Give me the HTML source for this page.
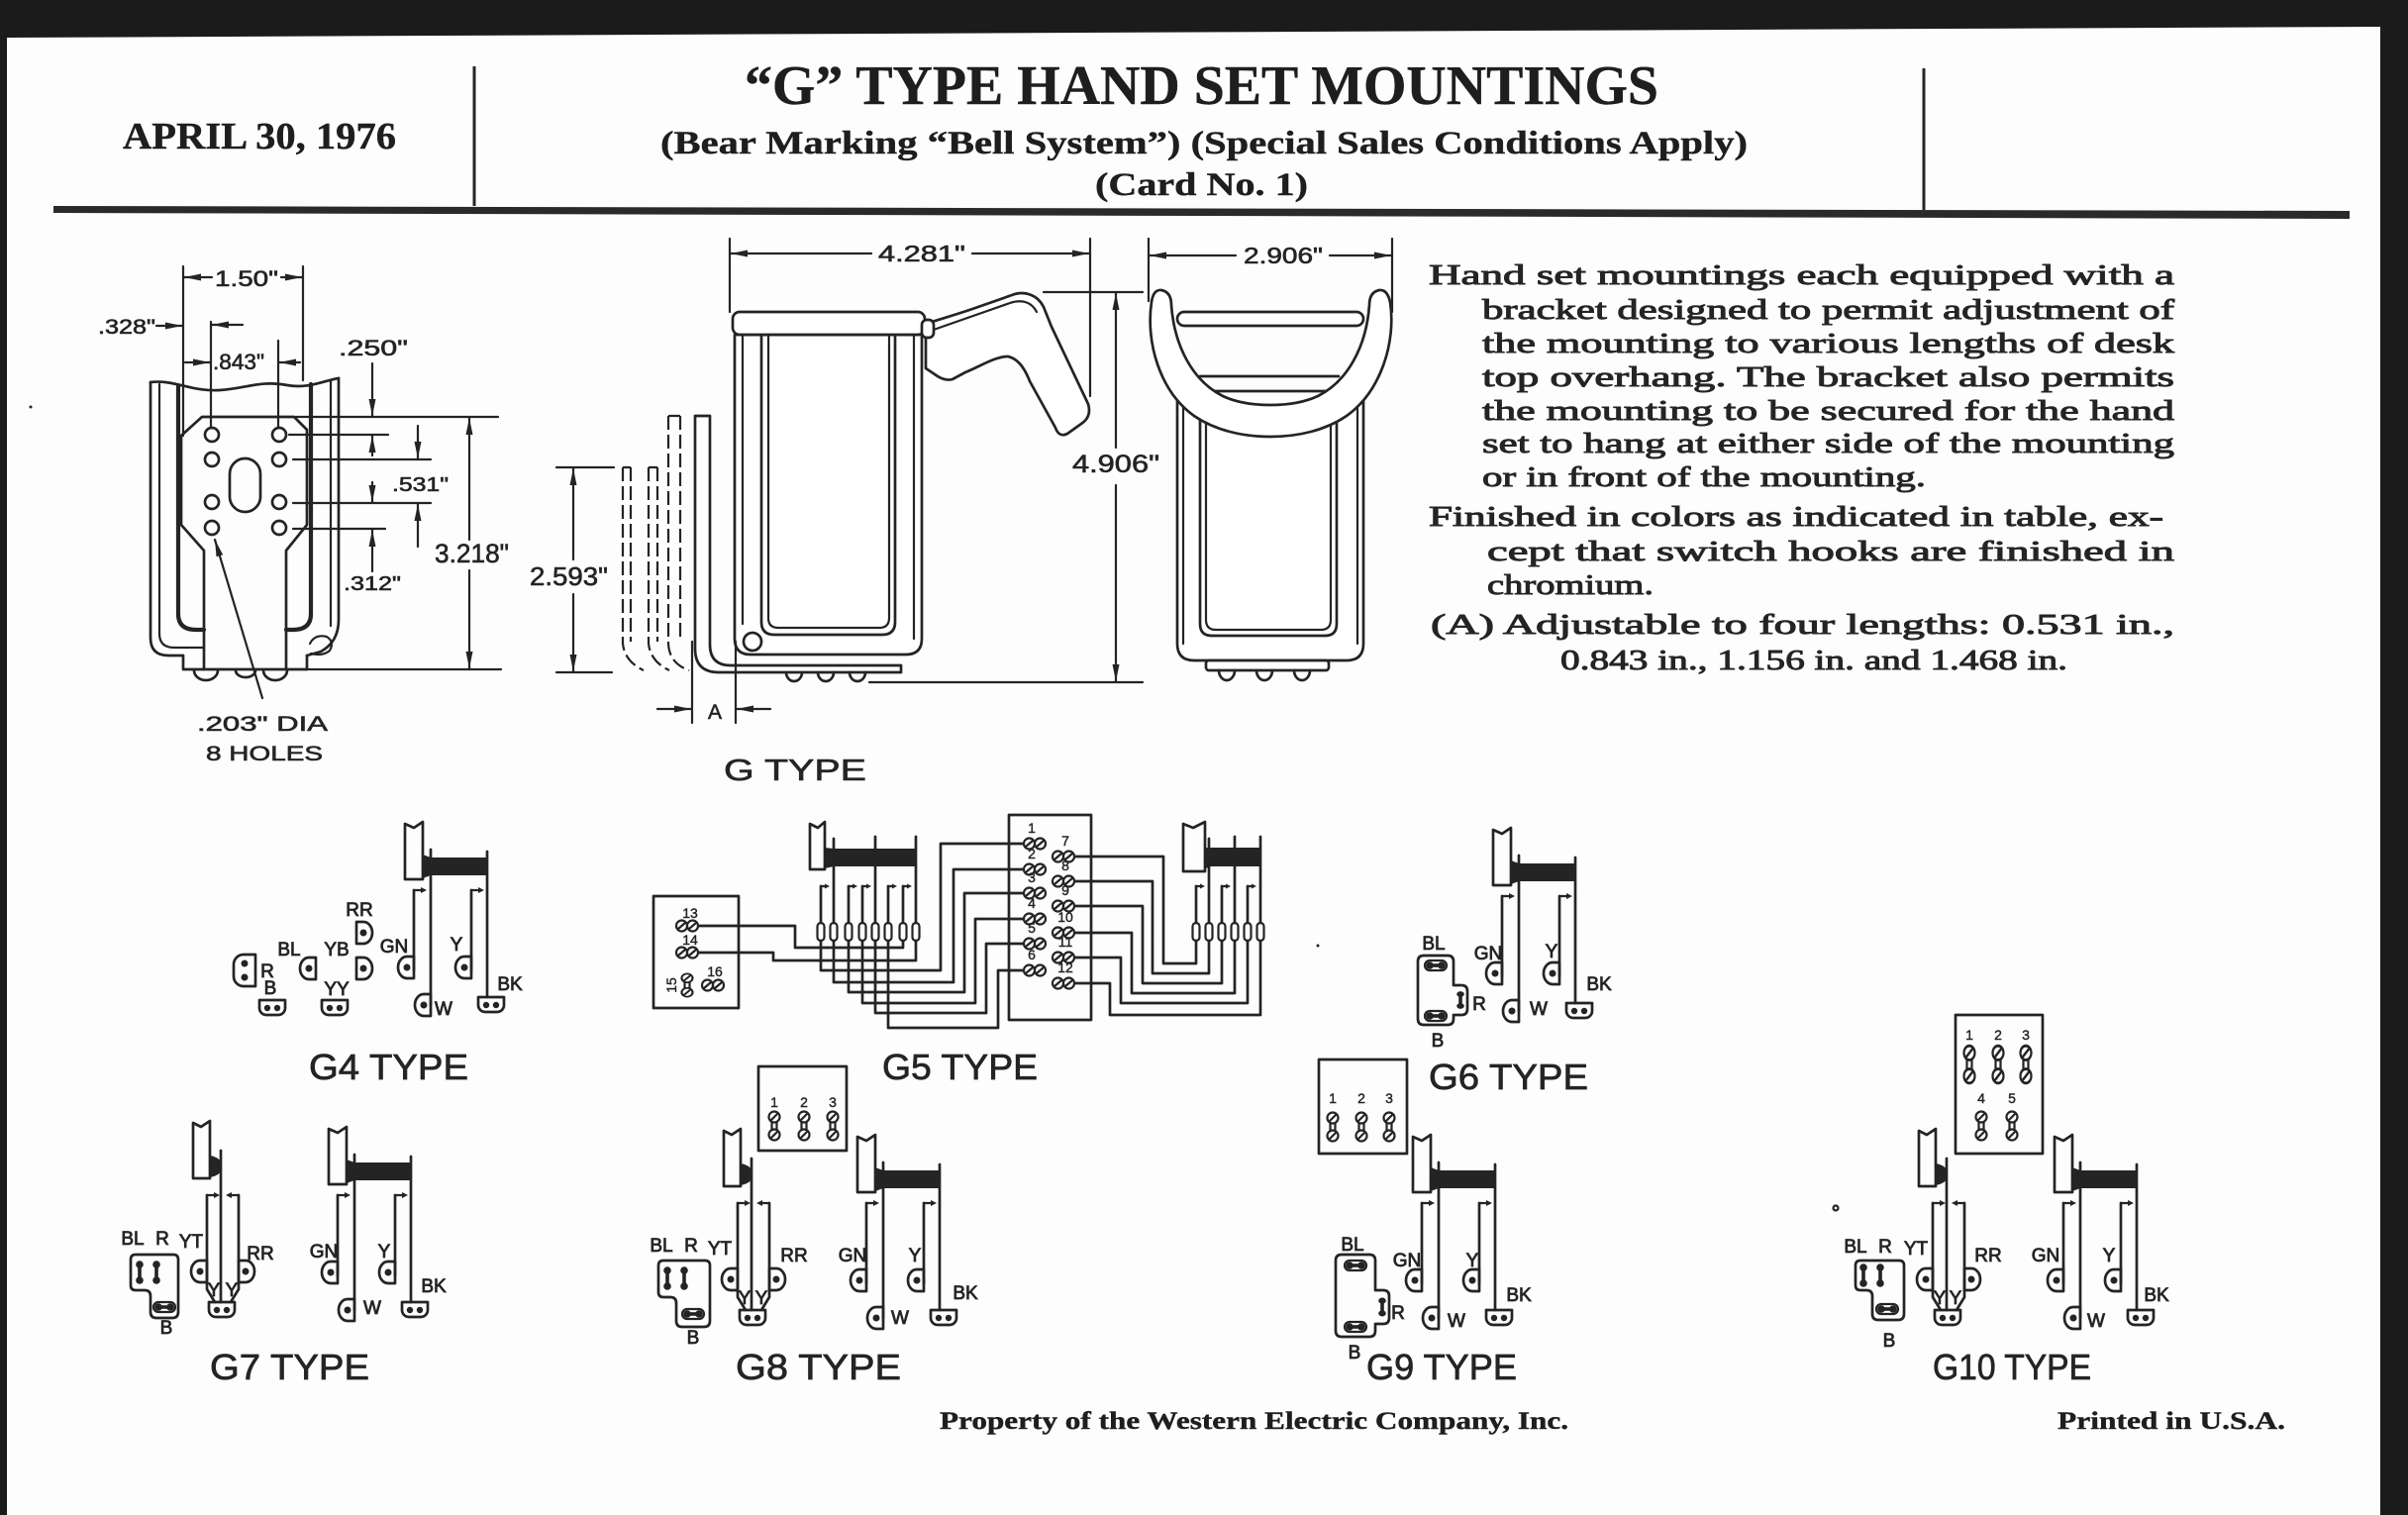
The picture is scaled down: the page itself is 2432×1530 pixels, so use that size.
<!DOCTYPE html>
<html><head><meta charset="utf-8"><title>G Type Hand Set Mountings</title>
<style>
html,body{margin:0;padding:0;background:#1b1b1b;overflow:hidden}
svg{display:block}
.s{fill:none;stroke:#242424;stroke-width:2.7;stroke-linecap:round;stroke-linejoin:round}
.h{fill:none;stroke:#242424;stroke-width:4.2;stroke-linecap:round;stroke-linejoin:round}
.t{fill:none;stroke:#242424;stroke-width:2.2;stroke-linecap:round;stroke-linejoin:round}
.d{fill:none;stroke:#242424;stroke-width:2.2;stroke-dasharray:14 5}
.w{fill:#fff;stroke:#242424;stroke-width:2.7;stroke-linejoin:round}
.f{fill:#242424}
.hd{font-family:"Liberation Serif",serif;font-weight:bold;fill:#1e1e1e;stroke:#1e1e1e;stroke-width:.4}
.bd{font-family:"Liberation Serif",serif;font-size:29px;fill:#242424;stroke:#242424;stroke-width:.9}
.sn{font-family:"Liberation Sans",sans-serif;fill:#242424;stroke:#242424;stroke-width:.6}
.lb{font-family:"Liberation Sans",sans-serif;font-size:19px;fill:#242424;stroke:#242424;stroke-width:.8;text-anchor:middle}
.tp{font-family:"Liberation Sans",sans-serif;font-size:36px;fill:#242424;stroke:#242424;stroke-width:.7}
.nm{font-family:"Liberation Sans",sans-serif;font-size:14px;fill:#242424;stroke:#242424;stroke-width:.4;text-anchor:middle}
</style></head><body>
<svg width="2432" height="1530" viewBox="0 0 2432 1530">
<defs>
<marker id="a" viewBox="0 0 10 10" refX="10" refY="5" markerWidth="17" markerHeight="7" markerUnits="userSpaceOnUse" orient="auto" preserveAspectRatio="none"><path d="M0,0 L10,5 L0,10 Z" fill="#242424"/></marker>
<g id="hk"><path d="M0,0 H9" class="t"/><path d="M7,-3 L13,0 L7,3 Z" class="f"/></g>
<g id="hks"><path d="M0,0 H5" class="t"/><path d="M4,-2.5 L9,0 L4,2.5 Z" class="f"/></g>
<g id="lL"><path d="M6,-11 H-1 A9,11 0 0 0 -1,11 H6 Z" class="s"/><circle cx="-1" r="3.5" class="f"/></g>
<g id="lR"><path d="M-6,-11 H1 A9,11 0 0 1 1,11 H-6 Z" class="s"/><circle cx="1" r="3.5" class="f"/></g>
<g id="lH"><path d="M-13,-7 H13 V1 A7,7 0 0 1 6,8 H-6 A7,7 0 0 1 -13,1 Z" class="s"/><circle cx="-5" cy="1" r="3.2" class="f"/><circle cx="5" cy="1" r="3.2" class="f"/></g>
<g id="dh"><circle cx="-5.5" r="5.5" class="t"/><circle cx="5.5" r="5.5" class="t"/><path d="M-9,3 L-2,-3 M2,3 L9,-3" class="t"/></g>
<g id="dv"><circle cy="-9" r="5.5" class="t"/><circle cy="9" r="5.5" class="t"/><path d="M-2.5,-4 V4 M2.5,-4 V4 M-3,-6 L3,-12 M-3,12 L3,6" class="t"/></g>
<g id="dd"><circle cx="-6" r="3.8" class="f"/><circle cx="6" r="3.8" class="f"/><rect x="-6" y="-1.8" width="12" height="3.6" class="f"/><rect x="-11" y="-5" width="22" height="10" rx="5" class="t"/></g>
<g id="ddv"><circle cy="-8" r="3.8" class="f"/><circle cy="8" r="3.8" class="f"/><rect x="-1.8" y="-8" width="3.6" height="16" class="f"/></g>
<g id="hs2">
<path d="M0,2 L9,6 L18,0 V58 H0 Z" class="s"/>
<path d="M18,33 L26,36 V54 L18,57 Z" class="f"/>
<rect x="26" y="36" width="57" height="18" class="f"/>
<path d="M26,28 V185 M83,30 V177 M9,69 V150 M67,69 V150" class="s"/>
<use href="#hk" x="9" y="69"/><use href="#hk" x="67" y="69"/>
<use href="#lL" x="3" y="147"/><use href="#lL" x="61" y="147"/><use href="#lL" x="20" y="185"/><use href="#lH" x="87" y="184"/>
</g>
<g id="hs1">
<path d="M0,2 L8,6 L17,0 V58 H0 Z" class="s"/>
<path d="M17,35 Q29,37 29,46 Q29,55 17,57 Z" class="f"/>
<path d="M28,30 V183 M14,75 V170 L22,183 M46,75 V170 L38,183" class="s"/>
<use href="#hk" x="14" y="75"/><use href="#hk" transform="translate(46,75) scale(-1,1)"/>
<use href="#lL" x="8" y="152"/><use href="#lR" x="52" y="152"/><use href="#lH" x="29" y="190"/>
</g>
</defs>

<rect width="2432" height="1530" fill="#1b1b1b"/>
<path d="M7,38 L2404,27 L2404,1530 L7,1530 Z" fill="#fdfdfd"/>

<!-- HEADER -->
<text class="hd" x="124" y="150" font-size="38" textLength="276" lengthAdjust="spacingAndGlyphs">APRIL 30, 1976</text>
<rect x="477.5" y="67" width="3" height="141" fill="#262626"/>
<rect x="1941.5" y="69" width="3" height="143" fill="#262626"/>
<text class="hd" x="752" y="105" font-size="56" textLength="923" lengthAdjust="spacingAndGlyphs">“G” TYPE HAND SET MOUNTINGS</text>
<text class="hd" x="667" y="155" font-size="33" textLength="1098" lengthAdjust="spacingAndGlyphs">(Bear Marking “Bell System”) (Special Sales Conditions Apply)</text>
<text class="hd" x="1106" y="197" font-size="33" textLength="215" lengthAdjust="spacingAndGlyphs">(Card No. 1)</text>
<path d="M54,208 L2373,213 L2373,221 L54,215 Z" fill="#2a2a2a"/>

<!-- BODY TEXT -->
<text class="bd" x="1443" y="287" textLength="753" lengthAdjust="spacingAndGlyphs">Hand set mountings each equipped with a</text>
<text class="bd" x="1497" y="322" textLength="699" lengthAdjust="spacingAndGlyphs">bracket designed to permit adjustment of</text>
<text class="bd" x="1497" y="356" textLength="699" lengthAdjust="spacingAndGlyphs">the mounting to various lengths of desk</text>
<text class="bd" x="1497" y="390" textLength="699" lengthAdjust="spacingAndGlyphs">top overhang.  The bracket also permits</text>
<text class="bd" x="1497" y="424" textLength="699" lengthAdjust="spacingAndGlyphs">the mounting to be secured for the hand</text>
<text class="bd" x="1497" y="457" textLength="699" lengthAdjust="spacingAndGlyphs">set to hang at either side of the mounting</text>
<text class="bd" x="1497" y="491" textLength="448" lengthAdjust="spacingAndGlyphs">or in front of the mounting.</text>
<text class="bd" x="1443" y="531" textLength="742" lengthAdjust="spacingAndGlyphs">Finished in colors as indicated in table, ex-</text>
<text class="bd" x="1502" y="566" textLength="694" lengthAdjust="spacingAndGlyphs">cept that switch hooks are finished in</text>
<text class="bd" x="1502" y="600" textLength="168" lengthAdjust="spacingAndGlyphs">chromium.</text>
<text class="bd" x="1445" y="640" textLength="751" lengthAdjust="spacingAndGlyphs">(A) Adjustable to four lengths:  0.531 in.,</text>
<text class="bd" x="1576" y="676" textLength="512" lengthAdjust="spacingAndGlyphs">0.843 in., 1.156 in. and 1.468 in.</text>

<!-- TOP-LEFT BRACKET VIEW -->
<path class="s" d="M152,386 V644 Q152,662 170,662 H185 V676 H310 V662"/>
<path class="s" d="M342,382 V626 Q342,648 324,658 L310,662"/>
<path class="t" d="M313,650 Q318,640 330,643 Q338,648 333,657 Q326,663 314,660"/>
<path class="t" d="M161,388 V640 Q161,654 176,654 H206"/>
<path class="h" d="M180,390 V620 Q180,636 198,636 H206"/>
<path class="h" d="M314,388 V620 Q314,636 296,636 H289"/>
<path class="t" d="M334,384 V632"/>
<path class="s" d="M152,386 C175,383 195,396 222,394 C250,392 262,384 290,389 C312,393 328,384 342,382"/>
<path class="s" d="M183,440 L204,421 H297 L310,434 V530 L289,556 V676 M206,676 V556 L183,530 V440"/>
<g class="s">
<circle cx="214" cy="439" r="7"/><circle cx="282" cy="439" r="7"/>
<circle cx="214" cy="464" r="7"/><circle cx="282" cy="464" r="7"/>
<circle cx="214" cy="507" r="7"/><circle cx="282" cy="507" r="7"/>
<circle cx="214" cy="533" r="7"/><circle cx="282" cy="533" r="7"/>
</g>
<rect class="s" x="232" y="463" width="31" height="54" rx="15.5"/>
<path class="s" d="M196,677 A12,10 0 0 0 220,677 M238,677 A10,7 0 0 0 258,677 M266,677 A12,10 0 0 0 290,677"/>
<!-- dims -->
<path class="t" d="M185,269 V440 M306,269 V384 M213,325 V432 M281,344 V432"/>
<line class="t" x1="214" y1="280" x2="186" y2="280" marker-end="url(#a)"/>
<line class="t" x1="284" y1="280" x2="305" y2="280" marker-end="url(#a)"/>
<text class="sn" x="217" y="289" font-size="22" textLength="64" lengthAdjust="spacingAndGlyphs">1.50"</text>
<text class="sn" x="99" y="337" font-size="21" textLength="58" lengthAdjust="spacingAndGlyphs">.328"</text>
<line class="t" x1="158" y1="329" x2="184" y2="329" marker-end="url(#a)"/>
<line class="t" x1="245" y1="328" x2="214" y2="328" marker-end="url(#a)"/>
<line class="t" x1="187" y1="366" x2="212" y2="366" marker-end="url(#a)"/>
<text class="sn" x="215" y="373" font-size="22" textLength="52" lengthAdjust="spacingAndGlyphs">.843"</text>
<line class="t" x1="303" y1="366" x2="282" y2="366" marker-end="url(#a)"/>
<text class="sn" x="342" y="359" font-size="22" textLength="70" lengthAdjust="spacingAndGlyphs">.250"</text>
<path class="t" d="M299,421 H503 M292,439 H392 M296,464 H435 M296,508 H435 M296,534 H389 M310,676 H506"/>
<line class="t" x1="376" y1="367" x2="376" y2="420" marker-end="url(#a)"/>
<line class="t" x1="376" y1="460" x2="376" y2="440" marker-end="url(#a)"/>
<line class="t" x1="422" y1="430" x2="422" y2="463" marker-end="url(#a)"/>
<line class="t" x1="422" y1="552" x2="422" y2="509" marker-end="url(#a)"/>
<line class="t" x1="376" y1="487" x2="376" y2="507" marker-end="url(#a)"/>
<line class="t" x1="376" y1="577" x2="376" y2="535" marker-end="url(#a)"/>
<text class="sn" x="396" y="496" font-size="20" textLength="57" lengthAdjust="spacingAndGlyphs">.531"</text>
<text class="sn" x="347" y="596" font-size="20" textLength="58" lengthAdjust="spacingAndGlyphs">.312"</text>
<line class="t" x1="474" y1="545" x2="474" y2="422" marker-end="url(#a)"/>
<line class="t" x1="474" y1="576" x2="474" y2="675" marker-end="url(#a)"/>
<text class="sn" x="439" y="568" font-size="27" textLength="75" lengthAdjust="spacingAndGlyphs">3.218"</text>
<line class="t" x1="265" y1="705" x2="217" y2="545" marker-end="url(#a)"/>
<text class="sn" x="199" y="738" font-size="21" textLength="132" lengthAdjust="spacingAndGlyphs">.203" DIA</text>
<text class="sn" x="208" y="768" font-size="21" textLength="118" lengthAdjust="spacingAndGlyphs">8 HOLES</text>
<circle cx="31" cy="411" r="1.5" class="f"/>

<!-- MIDDLE: SIDE VIEW -->
<path class="d" d="M675,420 V650 Q676,670 696,677 M687,420 V648 M675,420 H687"/>
<path class="d" d="M655,472 V650 Q657,668 676,677 M664,472 V648 M655,472 H664"/>
<path class="d" d="M629,472 V650 Q631,668 650,677 M637,472 V648 M629,472 H637"/>
<path class="w" d="M702,420 V655 Q702,679 726,679 H910 V672 H738 Q717,672 717,651 V420 Z"/>
<path class="s" d="M794,679 A8,9 0 0 0 810,679 M826,679 A8,9 0 0 0 842,679 M858,679 A8,9 0 0 0 874,679"/>
<path class="w" d="M742,338 V645 Q742,661 758,661 H915 Q931,661 931,645 V338 Z"/>
<path class="t" d="M750,340 V630 M923,340 V645"/>
<path class="s" d="M769,340 V628 Q769,641 782,641 H891 Q904,641 904,628 V340"/>
<path class="t" d="M776,340 V624 Q776,634 786,634 H888 Q898,634 898,624 V340"/>
<circle class="s" cx="760" cy="648" r="9"/>
<rect class="w" x="740" y="315" width="194" height="23" rx="7"/>
<path class="w" d="M935,327 C950,322 965,318 985,311 L1022,298 C1035,293 1048,298 1054,310 L1062,330 L1099,408 C1102,418 1098,424 1092,428 L1078,438 C1072,441 1068,438 1066,432 L1040,385 C1035,372 1028,362 1018,360 C1005,360 990,370 975,376 L962,383 C955,385 948,381 944,378 L935,372 Z"/>
<path class="t" d="M940,334 L1020,306 C1032,302 1042,305 1047,315"/>
<rect class="w" x="931" y="323" width="12" height="18" rx="5"/>
<!-- dims middle -->
<path class="t" d="M737,241 V315 M1101,241 V400"/>
<line class="t" x1="880" y1="256" x2="738" y2="256" marker-end="url(#a)"/>
<line class="t" x1="982" y1="256" x2="1100" y2="256" marker-end="url(#a)"/>
<text class="sn" x="887" y="264" font-size="23" textLength="88" lengthAdjust="spacingAndGlyphs">4.281"</text>
<path class="t" d="M1160,241 V304 M1406,241 V315"/>
<line class="t" x1="1248" y1="258" x2="1161" y2="258" marker-end="url(#a)"/>
<line class="t" x1="1343" y1="258" x2="1405" y2="258" marker-end="url(#a)"/>
<text class="sn" x="1256" y="266" font-size="23" textLength="80" lengthAdjust="spacingAndGlyphs">2.906"</text>
<path class="t" d="M1054,295 H1154 M878,689 H1154"/>
<line class="t" x1="1127" y1="452" x2="1127" y2="296" marker-end="url(#a)"/>
<line class="t" x1="1127" y1="490" x2="1127" y2="688" marker-end="url(#a)"/>
<text class="sn" x="1083" y="477" font-size="25" textLength="88" lengthAdjust="spacingAndGlyphs">4.906"</text>
<path class="t" d="M562,472 H620 M562,679 H618"/>
<line class="t" x1="579" y1="565" x2="579" y2="473" marker-end="url(#a)"/>
<line class="t" x1="579" y1="600" x2="579" y2="678" marker-end="url(#a)"/>
<text class="sn" x="535" y="591" font-size="26" textLength="79" lengthAdjust="spacingAndGlyphs">2.593"</text>
<path class="t" d="M699,648 V730 M743,648 V730"/>
<line class="t" x1="664" y1="716" x2="698" y2="716" marker-end="url(#a)"/>
<line class="t" x1="778" y1="716" x2="744" y2="716" marker-end="url(#a)"/>
<text class="sn" x="715" y="726" font-size="21">A</text>
<text class="sn" x="731" y="788" font-size="31" textLength="144" lengthAdjust="spacingAndGlyphs">G TYPE</text>

<!-- FRONT VIEW -->
<path class="w" d="M1189,395 V650 Q1189,667 1206,667 H1360 Q1377,667 1377,650 V395 Z"/>
<path class="t" d="M1195,400 V650 M1371,400 V650"/>
<path class="s" d="M1212,422 V630 Q1212,642 1224,642 H1338 Q1350,642 1350,630 V422"/>
<path class="t" d="M1218,424 V626 Q1218,636 1228,636 H1334 Q1344,636 1344,626 V424"/>
<rect class="w" x="1218" y="667" width="124" height="10" rx="3"/>
<path class="s" d="M1231,677 A8,10 0 0 0 1247,677 M1269,677 A8,10 0 0 0 1285,677 M1307,677 A8,10 0 0 0 1323,677"/>
<rect class="w" x="1189" y="315" width="188" height="14" rx="7"/>
<path class="s" d="M1212,380 H1352"/>
<path class="w" d="M1163,305 Q1165,292 1173,293 Q1183,295 1183,308 C1186,350 1205,385 1235,400 C1250,407 1268,409 1283,409 C1298,409 1316,407 1331,400 C1361,385 1380,350 1383,308 Q1383,295 1393,293 Q1401,292 1404,305 C1410,345 1395,395 1360,420 C1338,435 1310,441 1283,441 C1256,441 1228,435 1206,420 C1171,395 1157,345 1163,305 Z"/>

<!-- G4 -->
<use href="#hs2" x="409" y="830"/>
<path class="s" d="M258,964 H246 A10,10 0 0 0 236,974 V986 A10,10 0 0 0 246,996 H258 Z"/>
<circle cx="247" cy="973" r="3.5" class="f"/><circle cx="247" cy="987" r="3.5" class="f"/>
<use href="#lL" x="313" y="978"/>
<use href="#lR" x="366" y="942"/>
<use href="#lR" x="366" y="978"/>
<use href="#lH" x="275" y="1017"/>
<use href="#lH" x="338" y="1017"/>
<text class="lb" x="363" y="925">RR</text>
<text class="lb" x="292" y="965">BL</text>
<text class="lb" x="340" y="965">YB</text>
<text class="lb" x="398" y="962">GN</text>
<text class="lb" x="461" y="960">Y</text>
<text class="lb" x="270" y="987">R</text>
<text class="lb" x="273" y="1004">B</text>
<text class="lb" x="340" y="1005">YY</text>
<text class="lb" x="448" y="1025">W</text>
<text class="lb" x="515" y="1000">BK</text>
<text class="tp" x="312" y="1090" textLength="161" lengthAdjust="spacingAndGlyphs">G4 TYPE</text>

<!-- G5 -->
<rect class="s" x="660" y="905" width="86" height="113"/>
<use href="#dh" x="694" y="935"/><use href="#dh" x="694" y="962"/>
<use href="#dv" transform="translate(694,995) scale(1,0.8)"/><use href="#dh" x="720" y="995"/>
<text class="nm" x="697" y="927">13</text><text class="nm" x="697" y="954">14</text>
<text class="nm" transform="translate(683,995) rotate(-90)">15</text>
<text class="nm" x="722" y="986">16</text>
<path class="s" d="M818,832 L826,836 L833,830 V878 H818 Z"/>
<path class="f" d="M833,856 L842,857 V875 L833,877 Z"/>
<rect class="f" x="842" y="857" width="84" height="18"/>
<path class="s" d="M842,847 V932 M884,845 V932 M925,845 V932 M829,895 V932 M857,895 V932 M871,895 V932 M897,895 V932 M912,895 V932"/>
<use href="#hks" x="829" y="895"/><use href="#hks" x="857" y="895"/><use href="#hks" x="871" y="895"/><use href="#hks" x="897" y="895"/><use href="#hks" x="912" y="895"/>
<g class="t">
<rect x="825.5" y="932" width="7" height="18" rx="3.5"/><rect x="838.5" y="932" width="7" height="18" rx="3.5"/>
<rect x="853.5" y="932" width="7" height="18" rx="3.5"/><rect x="867.5" y="932" width="7" height="18" rx="3.5"/>
<rect x="880.5" y="932" width="7" height="18" rx="3.5"/><rect x="893.5" y="932" width="7" height="18" rx="3.5"/>
<rect x="908.5" y="932" width="7" height="18" rx="3.5"/><rect x="921.5" y="932" width="7" height="18" rx="3.5"/>
</g>
<g class="s">
<path d="M706,935 H803 V957 H912 V950"/>
<path d="M706,962 H781 V970 H925 V950"/>
<path d="M829,950 V980 H950 V852 H1033"/>
<path d="M842,950 V992 H963 V878 H1033"/>
<path d="M857,950 V1002 H974 V902 H1033"/>
<path d="M871,950 V1013 H985 V928 H1033"/>
<path d="M884,950 V1023 H996 V953 H1033"/>
<path d="M897,950 V1038 H1008 V980 H1033"/>
<path d="M1086,865 H1175 V973 H1208 V950"/>
<path d="M1086,890 H1164 V983 H1221 V950"/>
<path d="M1086,915 H1154 V993 H1234 V950"/>
<path d="M1086,942 H1143 V1003 H1247 V950"/>
<path d="M1086,967 H1132 V1013 H1260 V950"/>
<path d="M1086,993 H1121 V1025 H1273 V950"/>
</g>
<rect class="s" x="1019" y="823" width="83" height="207"/>
<use href="#dh" x="1045" y="852"/><use href="#dh" x="1045" y="878"/><use href="#dh" x="1045" y="902"/>
<use href="#dh" x="1045" y="928"/><use href="#dh" x="1045" y="953"/><use href="#dh" x="1045" y="980"/>
<use href="#dh" x="1074" y="865"/><use href="#dh" x="1074" y="890"/><use href="#dh" x="1074" y="915"/>
<use href="#dh" x="1074" y="942"/><use href="#dh" x="1074" y="967"/><use href="#dh" x="1074" y="993"/>
<text class="nm" x="1042" y="841">1</text><text class="nm" x="1042" y="867">2</text><text class="nm" x="1042" y="891">3</text>
<text class="nm" x="1042" y="917">4</text><text class="nm" x="1042" y="942">5</text><text class="nm" x="1042" y="969">6</text>
<text class="nm" x="1076" y="854">7</text><text class="nm" x="1076" y="879">8</text><text class="nm" x="1076" y="904">9</text>
<text class="nm" x="1076" y="931">10</text><text class="nm" x="1076" y="956">11</text><text class="nm" x="1076" y="982">12</text>
<path class="s" d="M1195,832 L1205,836 L1217,830 V880 H1195 Z"/>
<path class="f" d="M1217,856 L1221,856 V876 L1217,877 Z"/>
<rect class="f" x="1221" y="856" width="52" height="19"/>
<path class="s" d="M1221,847 V932 M1247,845 V932 M1273,845 V932 M1208,895 V932 M1234,895 V932 M1260,895 V932"/>
<use href="#hks" x="1208" y="895"/><use href="#hks" x="1234" y="895"/><use href="#hks" x="1260" y="895"/>
<g class="t">
<rect x="1204.5" y="932" width="7" height="18" rx="3.5"/><rect x="1217.5" y="932" width="7" height="18" rx="3.5"/>
<rect x="1230.5" y="932" width="7" height="18" rx="3.5"/><rect x="1243.5" y="932" width="7" height="18" rx="3.5"/>
<rect x="1256.5" y="932" width="7" height="18" rx="3.5"/><rect x="1269.5" y="932" width="7" height="18" rx="3.5"/>
</g>
<text class="tp" x="891" y="1090" textLength="157" lengthAdjust="spacingAndGlyphs">G5 TYPE</text>

<!-- G6 -->
<use href="#hs2" x="1508" y="836"/>
<path class="s" d="M1438,965 H1462 Q1468,965 1468,971 V995 H1476 Q1482,995 1482,1001 V1019 Q1482,1025 1476,1025 H1468 V1029 Q1468,1035 1462,1035 H1438 Q1432,1035 1432,1029 V971 Q1432,965 1438,965 Z"/>
<use href="#dd" x="1450" y="975"/><use href="#dd" x="1450" y="1026"/>
<use href="#ddv" transform="translate(1475,1010) scale(1,0.75)"/>
<text class="lb" x="1448" y="959">BL</text>
<text class="lb" x="1503" y="969">GN</text>
<text class="lb" x="1567" y="967">Y</text>
<text class="lb" x="1494" y="1020">R</text>
<text class="lb" x="1554" y="1025">W</text>
<text class="lb" x="1615" y="1000">BK</text>
<text class="lb" x="1452" y="1057">B</text>
<circle cx="1331" cy="955" r="1.5" class="f"/>
<text class="tp" x="1443" y="1100" textLength="161" lengthAdjust="spacingAndGlyphs">G6 TYPE</text>

<!-- G7 -->
<use href="#hs1" x="195" y="1132"/>
<use href="#hs2" x="332" y="1138"/>
<path class="s" d="M137,1267 H175 Q180,1267 180,1272 V1325 Q180,1331 174,1331 H158 Q152,1331 152,1325 V1309 Q152,1303 146,1303 H137 Q132,1303 132,1298 V1272 Q132,1267 137,1267 Z"/>
<use href="#ddv" x="141" y="1285"/><use href="#ddv" x="158" y="1285"/><use href="#dd" x="166" y="1320"/>
<text class="lb" x="134" y="1257">BL</text>
<text class="lb" x="164" y="1257">R</text>
<text class="lb" x="193" y="1260">YT</text>
<text class="lb" x="263" y="1272">RR</text>
<text class="lb" x="327" y="1270">GN</text>
<text class="lb" x="388" y="1270">Y</text>
<text class="lb" x="438" y="1305">BK</text>
<text class="lb" x="376" y="1327">W</text>
<text class="lb" x="216" y="1309">Y</text>
<text class="lb" x="234" y="1309">Y</text>
<text class="lb" x="168" y="1347">B</text>
<text class="tp" x="212" y="1393" textLength="161" lengthAdjust="spacingAndGlyphs">G7 TYPE</text>

<!-- G8 -->
<rect class="s" x="766" y="1077" width="89" height="85"/>
<use href="#dv" x="782" y="1137"/><use href="#dv" x="812" y="1137"/><use href="#dv" x="841" y="1137"/>
<text class="nm" x="782" y="1118">1</text><text class="nm" x="812" y="1118">2</text><text class="nm" x="841" y="1118">3</text>
<use href="#hs1" x="731" y="1140"/>
<use href="#hs2" x="866" y="1146"/>
<path class="s" d="M670,1273 H712 Q717,1273 717,1278 V1334 Q717,1340 711,1340 H689 Q683,1340 683,1334 V1316 Q683,1310 677,1310 H670 Q665,1310 665,1305 V1278 Q665,1273 670,1273 Z"/>
<use href="#ddv" x="674" y="1291"/><use href="#ddv" x="691" y="1291"/><use href="#dd" x="700" y="1327"/>
<text class="lb" x="668" y="1264">BL</text>
<text class="lb" x="698" y="1264">R</text>
<text class="lb" x="727" y="1267">YT</text>
<text class="lb" x="802" y="1274">RR</text>
<text class="lb" x="861" y="1274">GN</text>
<text class="lb" x="924" y="1274">Y</text>
<text class="lb" x="975" y="1312">BK</text>
<text class="lb" x="909" y="1337">W</text>
<text class="lb" x="752" y="1317">Y</text>
<text class="lb" x="769" y="1317">Y</text>
<text class="lb" x="700" y="1357">B</text>
<text class="tp" x="743" y="1393" textLength="167" lengthAdjust="spacingAndGlyphs">G8 TYPE</text>

<!-- G9 -->
<rect class="s" x="1332" y="1070" width="89" height="95"/>
<use href="#dv" x="1346" y="1138"/><use href="#dv" x="1375" y="1138"/><use href="#dv" x="1403" y="1138"/>
<text class="nm" x="1346" y="1114">1</text><text class="nm" x="1375" y="1114">2</text><text class="nm" x="1403" y="1114">3</text>
<use href="#hs2" x="1427" y="1146"/>
<path class="s" d="M1355,1267 H1383 Q1389,1267 1389,1273 V1303 H1397 Q1403,1303 1403,1309 V1331 Q1403,1337 1397,1337 H1389 V1344 Q1389,1350 1383,1350 H1355 Q1349,1350 1349,1344 V1273 Q1349,1267 1355,1267 Z"/>
<use href="#dd" x="1369" y="1278"/><use href="#dd" x="1369" y="1340"/>
<use href="#ddv" transform="translate(1396,1320) scale(1,0.8)"/>
<text class="lb" x="1366" y="1263">BL</text>
<text class="lb" x="1421" y="1279">GN</text>
<text class="lb" x="1487" y="1279">Y</text>
<text class="lb" x="1471" y="1340">W</text>
<text class="lb" x="1534" y="1314">BK</text>
<text class="lb" x="1412" y="1332">R</text>
<text class="lb" x="1368" y="1372">B</text>
<text class="tp" x="1380" y="1393" textLength="152" lengthAdjust="spacingAndGlyphs">G9 TYPE</text>

<!-- G10 -->
<rect class="s" x="1975" y="1025" width="88" height="140"/>
<use href="#dv" transform="translate(1989,1075) scale(1,1.3)"/>
<use href="#dv" transform="translate(2018,1075) scale(1,1.3)"/>
<use href="#dv" transform="translate(2046,1075) scale(1,1.3)"/>
<text class="nm" x="1989" y="1050">1</text><text class="nm" x="2018" y="1050">2</text><text class="nm" x="2046" y="1050">3</text>
<use href="#dv" x="2001" y="1137"/><use href="#dv" x="2032" y="1137"/>
<text class="nm" x="2001" y="1114">4</text><text class="nm" x="2032" y="1114">5</text>
<use href="#hs1" x="1938" y="1140"/>
<use href="#hs2" x="2075" y="1146"/>
<path class="s" d="M1879,1273 H1918 Q1923,1273 1923,1278 V1327 Q1923,1333 1917,1333 H1897 Q1891,1333 1891,1327 V1309 Q1891,1303 1885,1303 H1879 Q1874,1303 1874,1298 V1278 Q1874,1273 1879,1273 Z"/>
<use href="#ddv" x="1882" y="1288"/><use href="#ddv" x="1899" y="1288"/><use href="#dd" x="1906" y="1322"/>
<text class="lb" x="1874" y="1265">BL</text>
<text class="lb" x="1904" y="1265">R</text>
<text class="lb" x="1935" y="1267">YT</text>
<text class="lb" x="2008" y="1274">RR</text>
<text class="lb" x="2066" y="1274">GN</text>
<text class="lb" x="2130" y="1274">Y</text>
<text class="lb" x="2178" y="1314">BK</text>
<text class="lb" x="2117" y="1340">W</text>
<text class="lb" x="1959" y="1317">Y</text>
<text class="lb" x="1975" y="1317">Y</text>
<text class="lb" x="1908" y="1360">B</text>
<circle class="t" cx="1854" cy="1220" r="2.5"/>
<text class="tp" x="1952" y="1393" textLength="160" lengthAdjust="spacingAndGlyphs">G10 TYPE</text>

<!-- FOOTER -->
<text class="hd" x="949" y="1443" font-size="25" textLength="635" lengthAdjust="spacingAndGlyphs">Property of the Western Electric Company, Inc.</text>
<text class="hd" x="2078" y="1443" font-size="25" textLength="230" lengthAdjust="spacingAndGlyphs">Printed in U.S.A.</text>
</svg>
</body></html>
